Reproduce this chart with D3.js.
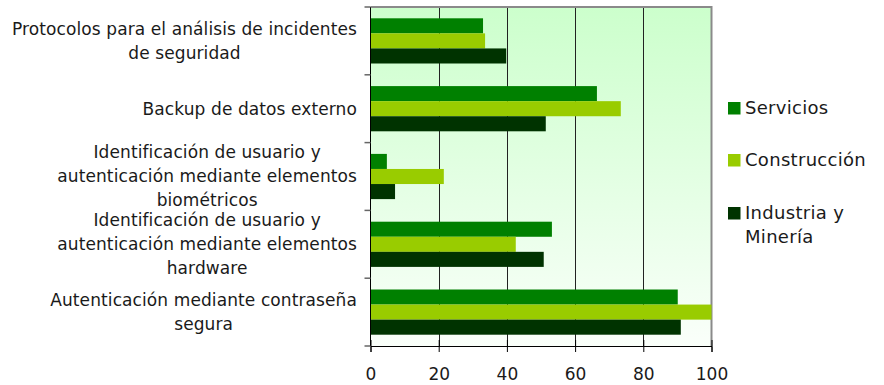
<!DOCTYPE html>
<html><head><meta charset="utf-8">
<script src="https://cdn.jsdelivr.net/npm/d3@7"></script>
<style>body{margin:0;background:#fff}svg{display:block}</style>
</head><body><svg id="c" width="884" height="385"></svg>
<script>
const categories = [
  ["Protocolos para el análisis de incidentes","de seguridad"],
  ["Backup de datos externo"],
  ["Identificación de usuario y","autenticación mediante elementos","biométricos"],
  ["Identificación de usuario y","autenticación mediante elementos","hardware"],
  ["Autenticación mediante contraseña","segura"]
];
const seriesNames = ["Servicios","Construcción","Industria y Minería"];
const servicios    = [33.0, 66.4, 4.8, 53.2, 90.1];
const construccion = [33.6, 73.4, 21.5, 42.6, 100];
const industria    = [39.8, 51.4, 7.2, 50.8, 91.0];
const xTicks = [0,20,40,60,80,100];
const colors = ["#008000","#99CC00","#003300"];
const seriesValues = [servicios, construccion, industria];

const svg = d3.select("#c");
const font = "'DejaVu Sans', sans-serif";
const L = 370.5, R = 711.5, T = 7, B = 346;
const x = d3.scaleLinear().domain([0,100]).range([L,R]);
const y = d3.scaleBand().domain(d3.range(categories.length)).range([T,B]);
const inner = d3.scaleBand().domain(d3.range(3)).range([0,y.bandwidth()]).paddingOuter(0.75).paddingInner(0);

const defs = svg.append("defs");
const g = defs.append("linearGradient").attr("id","bg").attr("x1",0).attr("y1",0).attr("x2",0).attr("y2",1);
g.append("stop").attr("offset","0%").attr("stop-color","#CCFFCC");
g.append("stop").attr("offset","100%").attr("stop-color","#FAFFFA");
svg.append("rect").attr("x",L).attr("y",T).attr("width",R-L).attr("height",B-T).attr("fill","url(#bg)");

// gridlines
svg.append("g").selectAll("line").data(xTicks.slice(1,-1)).join("line")
  .attr("x1",d=>Math.round(x(d))+0.5).attr("x2",d=>Math.round(x(d))+0.5)
  .attr("y1",T).attr("y2",B).attr("stroke","#222").attr("stroke-width",1);

// border top/right
svg.append("path").attr("d",`M${L},${T}H${R}V${B}`).attr("fill","none").attr("stroke","#8a8a8a").attr("stroke-width",2);

// bars
seriesValues.forEach((vals,si)=>{
  svg.append("g").selectAll("rect").data(vals).join("rect")
    .attr("x",x(0)).attr("y",(d,i)=>y(i)+inner(si))
    .attr("width",d=>x(d)-x(0)).attr("height",inner.bandwidth())
    .attr("fill",colors[si]);
});

// left axis
svg.append("line").attr("x1",L).attr("x2",L).attr("y1",T).attr("y2",B).attr("stroke","#000");
const bounds = d3.range(categories.length+1).map(i=> i<categories.length ? y(i) : B);
svg.append("g").selectAll("line").data(bounds).join("line")
  .attr("x1",L-6).attr("x2",L).attr("y1",d=>d).attr("y2",d=>d).attr("stroke","#666").attr("stroke-width",1.5);

// bottom axis
const xa = svg.append("g").attr("transform",`translate(0,${B})`)
  .call(d3.axisBottom(x).tickValues(xTicks).tickSize(6).tickPadding(16));
xa.select(".domain").attr("stroke","#000");
xa.selectAll(".tick line").attr("stroke","#000").attr("y1",-6);
xa.selectAll("text").attr("font-family",font).attr("font-size",17).attr("fill","#1a1a1a");

// category labels
const lh = 24;
categories.forEach((lines,i)=>{
  const cy = y(i)+y.bandwidth()/2;
  const gt = svg.append("g");
  const texts = lines.map((t,j)=> gt.append("text").attr("font-family",font).attr("font-size",17)
      .attr("letter-spacing",0.1).attr("fill","#1a1a1a")
      .attr("text-anchor","middle").attr("dy","0.35em")
      .attr("y", cy + (j-(lines.length-1)/2)*lh).text(t));
  const w = d3.max(texts,t=>t.node().getComputedTextLength());
  texts.forEach(t=>t.attr("x",357 - w/2));
});

// legend
const leg = [[108],[160],[213,237]];
seriesNames.forEach((n,i)=>{
  const parts = i===2 ? ["Industria y","Minería"] : [n];
  svg.append("rect").attr("x",728).attr("y",leg[i][0]-6).attr("width",12.5).attr("height",12.5).attr("fill",colors[i]);
  parts.forEach((p,j)=> svg.append("text").attr("x",745).attr("y",leg[i][j]).attr("dy","0.35em")
    .attr("font-family",font).attr("font-size",18).attr("letter-spacing",0.3).attr("fill","#1a1a1a").text(p));
});
</script></body></html>
